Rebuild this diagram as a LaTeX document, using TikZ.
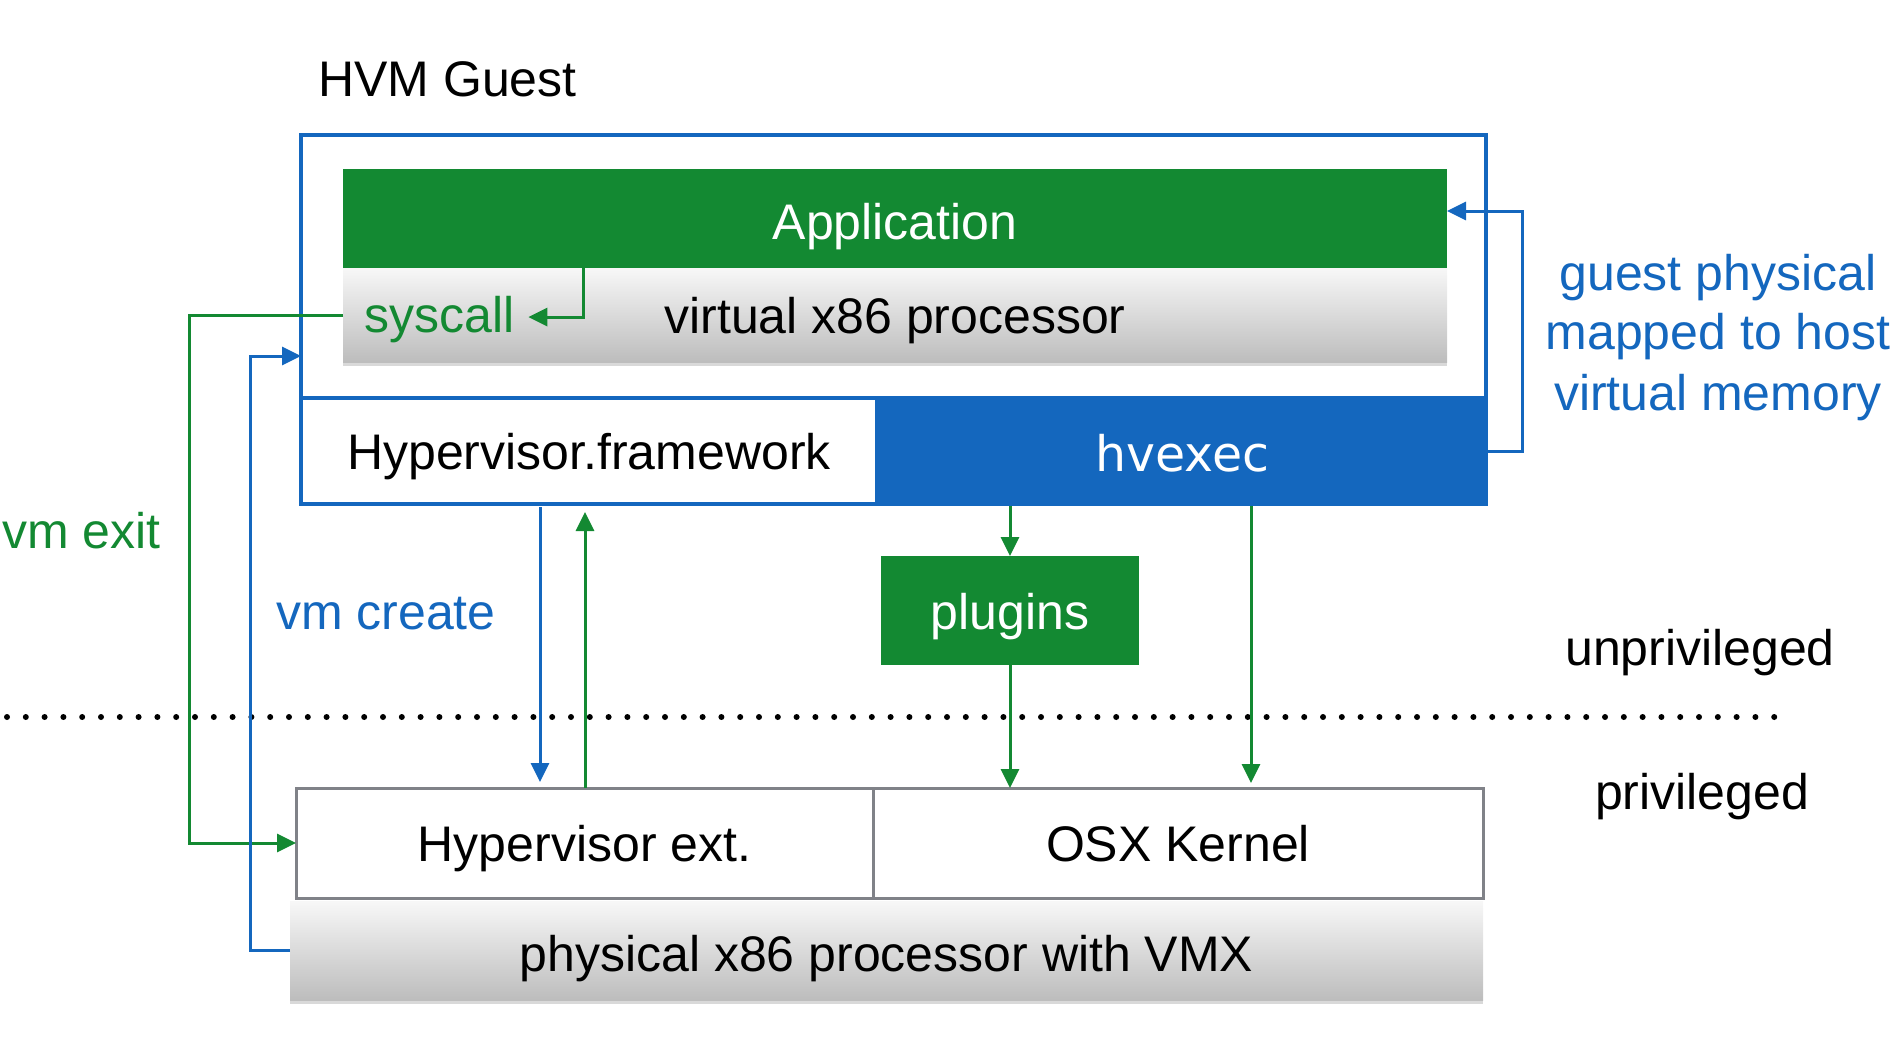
\documentclass[tikz,border=0pt]{standalone}
\usepackage{fontspec}
\setmainfont{Liberation Sans}
\newfontfamily\hvfont{DejaVu Sans}
\usetikzlibrary{arrows.meta,shadows}
\definecolor{hgreen}{RGB}{19,137,50}
\definecolor{hblue}{RGB}{20,103,190}
\definecolor{hgray}{RGB}{128,130,136}
\tikzset{
  lbl/.style={font=\fontsize{50bp}{60bp}\selectfont, inner sep=0pt},
  box/.style={lbl, anchor=north west, outer sep=0pt, text height=36bp, text depth=0bp},
  gradbox/.style={box, top color=gray!6, bottom color=gray!52,
    drop shadow={opacity=0.3, shadow xshift=0bp, shadow yshift=-4bp}},
  garrow/.style={draw=hgreen, line width=3bp, -{Triangle[length=19bp,width=18bp]}},
  barrow/.style={draw=hblue, line width=3bp, -{Triangle[length=19bp,width=18bp]}},
}
\begin{document}
\begin{tikzpicture}[x=1bp,y=-1bp]
\useasboundingbox (0,0) rectangle (1902,1062);

% dotted privilege line
\draw[line width=6bp, line cap=round, dash pattern=on 0bp off 18.8bp] (7,717) -- (1780,717);

% HVM guest
\node[box, draw=hblue, line width=3.5bp, minimum width=1185bp, minimum height=369bp] (guest) at (301,135) {};
\node[gradbox, minimum width=1104bp, minimum height=94bp] (vcpu) at (343,268) {virtual x86 processor};
\node[box, fill=hgreen, text=white, text height=42bp, minimum width=1104bp, minimum height=99bp] (app) at (343,169) {Application};
\node[lbl, text=hgreen, anchor=base west] (syscall) at (364,332) {syscall};
\node[box, draw=hblue, fill=white, line width=3.5bp, minimum width=576bp, minimum height=106bp] (hvf) at (301,398) {Hypervisor.framework};
\node[box, fill=hblue, text=white, font=\hvfont\fontsize{49bp}{58bp}\selectfont, text height=40bp,
      minimum width=611bp, minimum height=110bp] (hvexec) at (877,396) {hvexec};

\node[box, fill=hgreen, text=white, text height=38bp, minimum width=258bp, minimum height=109bp] (plugins) at (881,556) {plugins};

% host
\node[box, draw=hgray, line width=3bp, minimum width=577bp, minimum height=110bp] (hvext) at (296,788) {Hypervisor ext.};
\node[box, draw=hgray, line width=3bp, minimum width=610bp, minimum height=110bp] (osx) at (873,788) {OSX Kernel};
\node[gradbox, text height=41bp, minimum width=1193bp, minimum height=99bp] (phys) at (290,901) {physical x86 processor with VMX};

% labels
\node[lbl, anchor=base west] (hvmlabel) at (318,96.5) {HVM Guest};
\node[lbl, text=hgreen, anchor=base west] (vmexit) at (2,548) {vm exit};
\node[lbl, text=hblue, anchor=base west] (vmcreate) at (276,629) {vm create};
\node[lbl, text=hblue, anchor=base] (mem1) at (1718,290) {guest physical};
\node[lbl, text=hblue, anchor=base] (mem2) at (1718,349) {mapped to host};
\node[lbl, text=hblue, anchor=base] (mem3) at (1718,410) {virtual memory};
\node[lbl, anchor=base] (unpriv) at (1700,665) {unprivileged};
\node[lbl, anchor=base] (priv) at (1702,809) {privileged};

% connectors
\draw[garrow] ([xshift=-312bp]app.south) |- ([xshift=14bp,yshift=2bp]syscall.east);
\draw[garrow] (vcpu.west) -- ++(-154,0) |- (hvext.west);
\draw[barrow] (phys.west) -- ++(-40,0) |- ([yshift=-36.5bp]guest.west);
\draw[barrow, shorten <=3bp, shorten >=6bp] ([xshift=-49bp]hvf.south) -- ([xshift=-49bp]hvf.south |- hvext.north);
\draw[garrow, shorten >=8bp] ([xshift=-4bp]hvf.south |- hvext.north) -- ([xshift=-4bp]hvf.south);
\draw[garrow] (hvexec.south -| plugins.north) -- (plugins.north);
\draw[garrow] (plugins.south) -- (plugins.south |- osx.north);
\draw[garrow, shorten >=5bp] ([xshift=68.5bp]hvexec.south) -- ([xshift=68.5bp]hvexec.south |- osx.north);
\draw[barrow] (hvexec.east) -- ++(34,0) |- ([yshift=7.5bp]app.east);
\end{tikzpicture}
\end{document}
